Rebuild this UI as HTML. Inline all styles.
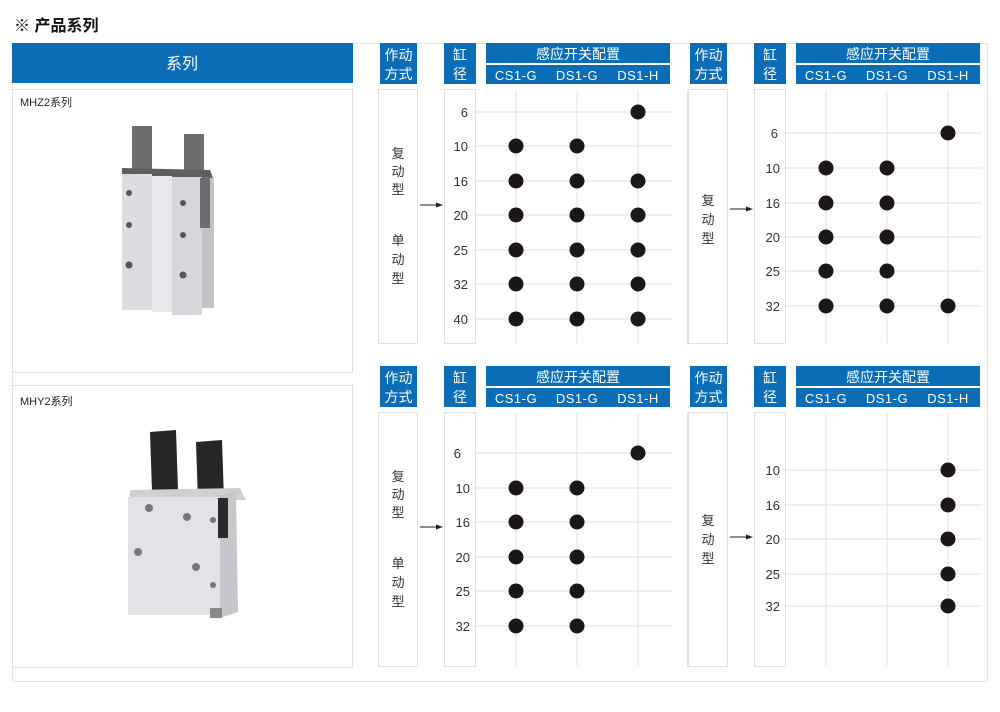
<!DOCTYPE html>
<html><head><meta charset="utf-8"><style>
html,body{margin:0;padding:0;background:#fff;}
svg{display:block;}
text{font-family:"Liberation Sans","Noto Sans CJK SC",sans-serif;}
</style></head><body>
<svg width="1000" height="712" viewBox="0 0 1000 712" xmlns="http://www.w3.org/2000/svg">
<defs>
<g id="hdr">
  <rect x="380" y="43" width="37" height="41" fill="#0a6db5"/>
  <text x="398.5" y="60" font-size="14" fill="#fff" text-anchor="middle">作动</text>
  <text x="398.5" y="79" font-size="14" fill="#fff" text-anchor="middle">方式</text>
  <rect x="444" y="43" width="32" height="41" fill="#0a6db5"/>
  <text x="460" y="60" font-size="14" fill="#fff" text-anchor="middle">缸</text>
  <text x="460" y="79" font-size="14" fill="#fff" text-anchor="middle">径</text>
  <rect x="486" y="43" width="184" height="20" fill="#0a6db5"/>
  <text x="578" y="59" font-size="14" fill="#fff" text-anchor="middle">感应开关配置</text>
  <rect x="486" y="65" width="184" height="19" fill="#0a6db5"/>
  <text x="516" y="80" font-size="13" fill="#fff" text-anchor="middle" letter-spacing="0.5">CS1-G</text>
  <text x="577" y="80" font-size="13" fill="#fff" text-anchor="middle" letter-spacing="0.5">DS1-G</text>
  <text x="638" y="80" font-size="13" fill="#fff" text-anchor="middle" letter-spacing="0.5">DS1-H</text>
  <rect x="378.5" y="89.5" width="39" height="254" fill="none" stroke="#e0e0e0"/>
  <rect x="444.5" y="89.5" width="31" height="254" fill="none" stroke="#e0e0e0"/>
  <g stroke="#e6e6e6" stroke-width="1.2">
    <line x1="516" y1="90" x2="516" y2="343"/>
    <line x1="577" y1="90" x2="577" y2="343"/>
    <line x1="638" y1="90" x2="638" y2="343"/>
  </g>
</g>
</defs>
<rect x="12.5" y="43.5" width="975" height="638" fill="none" stroke="#e4e4e4"/>
<text x="14" y="31" font-size="16" font-weight="bold" fill="#111">※ 产品系列</text>
<rect x="12" y="43" width="341" height="40" fill="#0a6db5"/>
<text x="182" y="69" font-size="16" fill="#fff" text-anchor="middle">系列</text>
<rect x="12.5" y="89.5" width="340" height="283" fill="#fff" stroke="#e0e0e0"/>
<text x="20" y="106" font-size="11" fill="#222">MHZ2系列</text>
<rect x="12.5" y="385.5" width="340" height="282" fill="#fff" stroke="#e0e0e0"/>
<text x="20" y="405" font-size="11" fill="#222">MHY2系列</text>
<line x1="687.5" y1="90" x2="687.5" y2="345" stroke="#e4e4e4"/>
<line x1="687.5" y1="412" x2="687.5" y2="667" stroke="#e4e4e4"/>

<!-- MHZ2 image -->
<g>
  <rect x="132" y="126" width="20" height="48" fill="#6d6d70"/>
  <rect x="184" y="134" width="20" height="46" fill="#6d6d70"/>
  <polygon points="122,168 210,170 213,178 122,176" fill="#5f5f60"/>
  <rect x="122" y="174" width="30" height="136" fill="#dcdde0"/>
  <rect x="152" y="176" width="20" height="136" fill="#e7e8ea"/>
  <rect x="172" y="177" width="30" height="138" fill="#d6d7da"/>
  <rect x="202" y="178" width="12" height="130" fill="#c2c4c8"/>
  <rect x="200" y="178" width="10" height="50" fill="#6d6d70"/>
  <g fill="#555"><circle cx="129" cy="193" r="3"/><circle cx="129" cy="225" r="3"/><circle cx="129" cy="265" r="3.5"/><circle cx="183" cy="203" r="3"/><circle cx="183" cy="235" r="3"/><circle cx="183" cy="275" r="3.5"/></g>
</g>
<!-- MHY2 image -->
<g>
  <polygon points="150,432 176,430 178,490 152,492" fill="#262626"/>
  <polygon points="196,442 222,440 224,500 198,502" fill="#262626"/>
  <polygon points="130,490 240,488 246,500 130,500" fill="#cfd0d3"/>
  <rect x="128" y="497" width="92" height="118" fill="#e2e3e6"/>
  <polygon points="220,496 236,490 238,612 220,618" fill="#c6c7ca"/>
  <rect x="218" y="498" width="10" height="40" fill="#2a2a2a"/>
  <g fill="#777"><circle cx="149" cy="508" r="4"/><circle cx="187" cy="517" r="4"/><circle cx="138" cy="552" r="4"/><circle cx="196" cy="567" r="4"/><circle cx="213" cy="520" r="3"/><circle cx="213" cy="585" r="3"/></g>
  <rect x="210" y="608" width="12" height="10" fill="#8a8a8a"/>
</g>

<!-- Chart 1 -->
<use href="#hdr"/>
<g font-size="13" fill="#333" text-anchor="middle">
<text x="398" y="158">复</text><text x="398" y="176">动</text><text x="398" y="194">型</text>
<text x="398" y="245">单</text><text x="398" y="264">动</text><text x="398" y="283">型</text>
</g>
<line x1="420" y1="205" x2="436" y2="205" stroke="#222"/><polygon points="436,202.5 443,205 436,207.5" fill="#222"/>
<g stroke="#e6e6e6" stroke-width="1.2">
<line x1="474" y1="112" x2="672" y2="112"/><line x1="474" y1="146" x2="672" y2="146"/><line x1="474" y1="181" x2="672" y2="181"/><line x1="474" y1="215" x2="672" y2="215"/><line x1="474" y1="250" x2="672" y2="250"/><line x1="474" y1="284" x2="672" y2="284"/><line x1="474" y1="319" x2="672" y2="319"/>
</g>
<g font-size="13" fill="#333" text-anchor="end">
<text x="468" y="117">6</text><text x="468" y="151">10</text><text x="468" y="186">16</text><text x="468" y="220">20</text><text x="468" y="255">25</text><text x="468" y="289">32</text><text x="468" y="324">40</text>
</g>
<g fill="#1c1716">
<circle cx="638" cy="112" r="7.5"/>
<circle cx="516" cy="146" r="7.5"/><circle cx="577" cy="146" r="7.5"/>
<circle cx="516" cy="181" r="7.5"/><circle cx="577" cy="181" r="7.5"/><circle cx="638" cy="181" r="7.5"/>
<circle cx="516" cy="215" r="7.5"/><circle cx="577" cy="215" r="7.5"/><circle cx="638" cy="215" r="7.5"/>
<circle cx="516" cy="250" r="7.5"/><circle cx="577" cy="250" r="7.5"/><circle cx="638" cy="250" r="7.5"/>
<circle cx="516" cy="284" r="7.5"/><circle cx="577" cy="284" r="7.5"/><circle cx="638" cy="284" r="7.5"/>
<circle cx="516" cy="319" r="7.5"/><circle cx="577" cy="319" r="7.5"/><circle cx="638" cy="319" r="7.5"/>
</g>

<!-- Chart 2 -->
<g transform="translate(310,0)">
<use href="#hdr"/>
<g font-size="13" fill="#333" text-anchor="middle">
<text x="398" y="205">复</text><text x="398" y="224">动</text><text x="398" y="243">型</text>
</g>
<line x1="420" y1="209" x2="436" y2="209" stroke="#222"/><polygon points="436,206.5 443,209 436,211.5" fill="#222"/>
<g stroke="#e6e6e6" stroke-width="1.2">
<line x1="474" y1="133" x2="672" y2="133"/><line x1="474" y1="168" x2="672" y2="168"/><line x1="474" y1="203" x2="672" y2="203"/><line x1="474" y1="237" x2="672" y2="237"/><line x1="474" y1="271" x2="672" y2="271"/><line x1="474" y1="306" x2="672" y2="306"/>
</g>
<g font-size="13" fill="#333" text-anchor="end">
<text x="468" y="138">6</text><text x="470" y="173">10</text><text x="470" y="208">16</text><text x="470" y="242">20</text><text x="470" y="276">25</text><text x="470" y="311">32</text>
</g>
<g fill="#1c1716">
<circle cx="638" cy="133" r="7.5"/>
<circle cx="516" cy="168" r="7.5"/><circle cx="577" cy="168" r="7.5"/>
<circle cx="516" cy="203" r="7.5"/><circle cx="577" cy="203" r="7.5"/>
<circle cx="516" cy="237" r="7.5"/><circle cx="577" cy="237" r="7.5"/>
<circle cx="516" cy="271" r="7.5"/><circle cx="577" cy="271" r="7.5"/>
<circle cx="516" cy="306" r="7.5"/><circle cx="577" cy="306" r="7.5"/><circle cx="638" cy="306" r="7.5"/>
</g>
</g>

<!-- Chart 3 -->
<g transform="translate(0,323)">
<use href="#hdr"/>
<g font-size="13" fill="#333" text-anchor="middle">
<text x="398" y="158">复</text><text x="398" y="176">动</text><text x="398" y="194">型</text>
<text x="398" y="245">单</text><text x="398" y="264">动</text><text x="398" y="283">型</text>
</g>
<line x1="420" y1="204" x2="436" y2="204" stroke="#222"/><polygon points="436,201.5 443,204 436,206.5" fill="#222"/>
<g stroke="#e6e6e6" stroke-width="1.2">
<line x1="474" y1="130" x2="672" y2="130"/><line x1="474" y1="165" x2="672" y2="165"/><line x1="474" y1="199" x2="672" y2="199"/><line x1="474" y1="234" x2="672" y2="234"/><line x1="474" y1="268" x2="672" y2="268"/><line x1="474" y1="303" x2="672" y2="303"/>
</g>
<g font-size="13" fill="#333" text-anchor="end">
<text x="461" y="135">6</text><text x="470" y="170">10</text><text x="470" y="204">16</text><text x="470" y="239">20</text><text x="470" y="273">25</text><text x="470" y="308">32</text>
</g>
<g fill="#1c1716">
<circle cx="638" cy="130" r="7.5"/>
<circle cx="516" cy="165" r="7.5"/><circle cx="577" cy="165" r="7.5"/>
<circle cx="516" cy="199" r="7.5"/><circle cx="577" cy="199" r="7.5"/>
<circle cx="516" cy="234" r="7.5"/><circle cx="577" cy="234" r="7.5"/>
<circle cx="516" cy="268" r="7.5"/><circle cx="577" cy="268" r="7.5"/>
<circle cx="516" cy="303" r="7.5"/><circle cx="577" cy="303" r="7.5"/>
</g>
</g>

<!-- Chart 4 -->
<g transform="translate(310,323)">
<use href="#hdr"/>
<g font-size="13" fill="#333" text-anchor="middle">
<text x="398" y="202">复</text><text x="398" y="221">动</text><text x="398" y="240">型</text>
</g>
<line x1="420" y1="214" x2="436" y2="214" stroke="#222"/><polygon points="436,211.5 443,214 436,216.5" fill="#222"/>
<g stroke="#e6e6e6" stroke-width="1.2">
<line x1="474" y1="147" x2="672" y2="147"/><line x1="474" y1="182" x2="672" y2="182"/><line x1="474" y1="216" x2="672" y2="216"/><line x1="474" y1="251" x2="672" y2="251"/><line x1="474" y1="283" x2="672" y2="283"/>
</g>
<g font-size="13" fill="#333" text-anchor="end">
<text x="470" y="152">10</text><text x="470" y="187">16</text><text x="470" y="221">20</text><text x="470" y="256">25</text><text x="470" y="288">32</text>
</g>
<g fill="#1c1716">
<circle cx="638" cy="147" r="7.5"/><circle cx="638" cy="182" r="7.5"/><circle cx="638" cy="216" r="7.5"/><circle cx="638" cy="251" r="7.5"/><circle cx="638" cy="283" r="7.5"/>
</g>
</g>
</svg>
</body></html>
